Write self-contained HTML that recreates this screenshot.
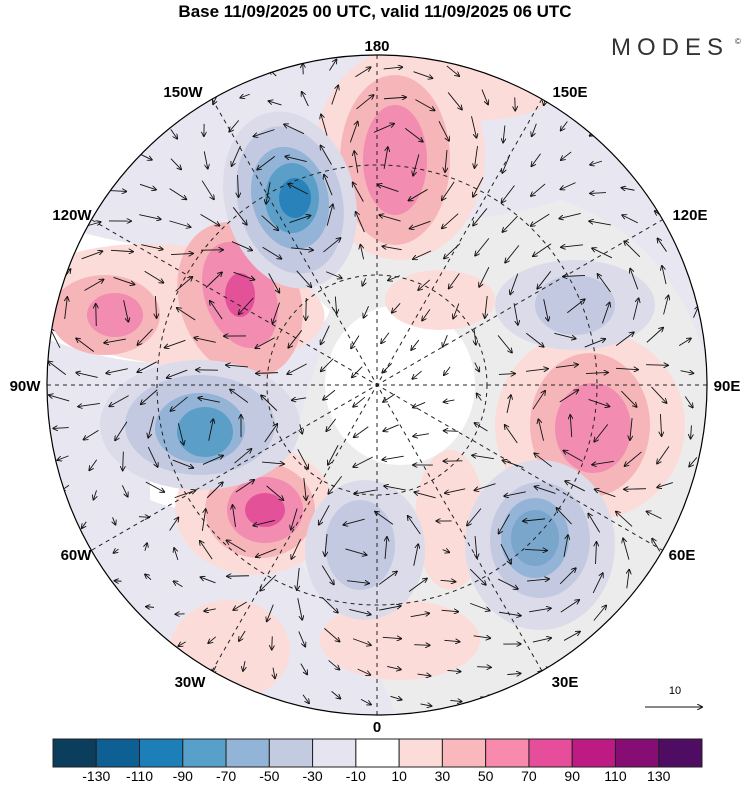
<!DOCTYPE html>
<html><head><meta charset="utf-8"><style>
body{margin:0;background:#fff;width:750px;height:783px;overflow:hidden;font-family:"Liberation Sans",sans-serif}
</style></head><body>
<svg id="s" width="750" height="783" viewBox="0 0 750 783" xmlns="http://www.w3.org/2000/svg" font-family="Liberation Sans, sans-serif">
<defs>
<clipPath id="c"><circle cx="377" cy="385" r="330"/></clipPath>
<marker id="ah" markerWidth="6" markerHeight="6" refX="5" refY="3" orient="auto"><path d="M0,0 L6,3 L0,6" fill="none" stroke="#111" stroke-width="1"/></marker>
</defs>
<text x="375" y="17" text-anchor="middle" font-size="17" font-weight="bold">Base 11/09/2025 00 UTC, valid 11/09/2025 06 UTC</text>
<text x="670" y="55" text-anchor="middle" font-size="24" fill="#333" letter-spacing="6">MODES</text>
<text x="735" y="44" font-size="8" fill="#333">©</text>
<g clip-path="url(#c)">
<rect x="40" y="50" width="680" height="680" fill="#e8e6f0"/>
<path d="M300,250 C380,220 470,230 560,200 C650,230 700,300 720,420 L720,730 L400,730 C380,650 330,620 300,560 C280,480 300,400 330,330 Z" fill="#ececec"/>
<ellipse cx="400" cy="385" rx="75" ry="80" fill="#fff"/>
<path d="M150,465 C220,455 290,470 320,500 C290,520 200,520 150,500 Z" fill="#fff"/>
<path d="M60,225 C150,260 260,240 330,310 C320,340 280,360 200,360 C130,370 80,350 50,340 Z" fill="#fff"/>
<g fill="#fcdcd9">
<ellipse cx="400" cy="155" rx="85" ry="105"/>
<ellipse cx="480" cy="85" rx="80" ry="35"/>
<ellipse cx="175" cy="305" rx="150" ry="60" transform="rotate(5 175 305)"/>
<ellipse cx="255" cy="510" rx="80" ry="65"/>
<ellipse cx="590" cy="425" rx="95" ry="95"/>
<ellipse cx="440" cy="300" rx="55" ry="30"/>
<ellipse cx="450" cy="520" rx="35" ry="70"/>
<ellipse cx="400" cy="640" rx="80" ry="40"/>
<ellipse cx="230" cy="650" rx="60" ry="50"/>
</g>
<g fill="#f6b5b9">
<ellipse cx="395" cy="160" rx="55" ry="85"/>
<ellipse cx="240" cy="300" rx="60" ry="80" transform="rotate(-20 240 300)"/>
<ellipse cx="105" cy="315" rx="55" ry="40"/>
<ellipse cx="260" cy="510" rx="55" ry="48"/>
<ellipse cx="590" cy="425" rx="60" ry="72"/>
</g>
<g fill="#f28cb0">
<ellipse cx="395" cy="160" rx="32" ry="55"/>
<ellipse cx="240" cy="295" rx="35" ry="55" transform="rotate(-20 240 295)"/>
<ellipse cx="265" cy="510" rx="38" ry="33"/>
<ellipse cx="593" cy="428" rx="38" ry="45"/>
<ellipse cx="115" cy="315" rx="28" ry="22"/>
</g>
<g fill="#e35199">
<ellipse cx="240" cy="295" rx="15" ry="22"/>
<ellipse cx="265" cy="510" rx="20" ry="17"/>
</g>
<g fill="#dcdbea">
<ellipse cx="290" cy="200" rx="65" ry="90" transform="rotate(-15 290 200)"/>
<ellipse cx="200" cy="425" rx="100" ry="65"/>
<ellipse cx="540" cy="545" rx="75" ry="85"/>
<ellipse cx="365" cy="550" rx="60" ry="70"/>
<ellipse cx="575" cy="305" rx="80" ry="45"/>
</g>
<g fill="#c3c9e0">
<ellipse cx="290" cy="200" rx="52" ry="75" transform="rotate(-15 290 200)"/>
<ellipse cx="200" cy="425" rx="75" ry="50"/>
<ellipse cx="540" cy="540" rx="50" ry="58"/>
<ellipse cx="360" cy="545" rx="35" ry="45"/>
<ellipse cx="575" cy="305" rx="40" ry="30"/>
</g>
<g fill="#93b4d6">
<ellipse cx="290" cy="198" rx="38" ry="52" transform="rotate(-15 290 198)"/>
<ellipse cx="200" cy="428" rx="45" ry="35"/>
<ellipse cx="535" cy="538" rx="34" ry="40"/>
</g>
<g fill="#5b9fc8">
<ellipse cx="292" cy="198" rx="27" ry="35"/>
<ellipse cx="205" cy="432" rx="28" ry="25"/>
<ellipse cx="535" cy="538" rx="24" ry="28" fill="#7aa6cc"/>
</g>
<ellipse cx="295" cy="198" rx="16" ry="20" fill="#2a82ba"/>
<g fill="none" stroke="#222" stroke-width="1" stroke-dasharray="4,4">
<circle cx="377" cy="385" r="110"/>
<circle cx="377" cy="385" r="220"/>
<line x1="47" y1="385" x2="707" y2="385"/>
<line x1="377" y1="55" x2="377" y2="715"/>
<line x1="92" y1="220" x2="662" y2="550"/>
<line x1="92" y1="550" x2="662" y2="220"/>
<line x1="212" y1="99" x2="542" y2="671"/>
<line x1="212" y1="671" x2="542" y2="99"/>
</g>
<g id="arr" stroke="#111" stroke-width="0.9" fill="none"></g>
</g>
<circle cx="377" cy="385" r="330" fill="none" stroke="#000" stroke-width="1.2"/>
<g font-size="15" font-weight="bold" text-anchor="middle">
<text x="377" y="51">180</text>
<text x="377" y="732">0</text>
<text x="25" y="391">90W</text>
<text x="727" y="391">90E</text>
<text x="183" y="97">150W</text>
<text x="570" y="97">150E</text>
<text x="72" y="220">120W</text>
<text x="690" y="220">120E</text>
<text x="76" y="560">60W</text>
<text x="682" y="560">60E</text>
<text x="190" y="687">30W</text>
<text x="565" y="687">30E</text>
</g>
<text x="675" y="694" text-anchor="middle" font-size="11">10</text>
<line x1="645" y1="707" x2="702" y2="707" stroke="#111" stroke-width="1" marker-end="url(#ah)"/>
<g id="cb" stroke="#222" stroke-width="1"></g>
<g id="cbl" font-size="14" text-anchor="middle"></g>
</svg>
<script>
var cols=["#0b3d5c","#0e5f93","#1d7fb8","#56a0c9","#92b4d6","#c3cbe0","#e6e4f0","#ffffff","#fcdcd9","#fbb8bc","#f88aad","#e64d9b","#bd1a84","#860d73","#4f0c63"];
var cb=document.getElementById("cb"),cbl=document.getElementById("cbl"),NS="http://www.w3.org/2000/svg";
var x0=53,w=(702-53)/15;
cols.forEach(function(c,i){var r=document.createElementNS(NS,"rect");r.setAttribute("x",x0+i*w);r.setAttribute("y",739);r.setAttribute("width",w);r.setAttribute("height",28);r.setAttribute("fill",c);cb.appendChild(r);});
var labs=[-130,-110,-90,-70,-50,-30,-10,10,30,50,70,90,110,130];
labs.forEach(function(l,i){var t=document.createElementNS(NS,"text");t.setAttribute("x",x0+(i+1)*w);t.setAttribute("y",781);t.textContent=l;cbl.appendChild(t);});
var V=[[293,200,-1],[395,160,1],[238,298,1],[110,315,1],[202,428,-1],[262,510,1],[357,545,-1],[537,538,-1],[590,425,1],[575,305,-1]];
var g=document.getElementById("arr");
for(var y=70;y<720;y+=30){for(var x=60;x<720;x+=30){
 var jx=x+((y*7)%13)-6,jy=y+((x*5)%11)-5;
 var dx=0,dy=0;V.forEach(function(v){var ux=jx-v[0],uy=jy-v[1];var d2=ux*ux+uy*uy+400;var f=v[2]*2500/d2;dx+=-uy*f/Math.sqrt(d2);dy+=ux*f/Math.sqrt(d2);});
 var m=Math.sqrt(dx*dx+dy*dy)||1;var L=Math.min(22,6+m*60);
 var p=document.createElementNS(NS,"line");p.setAttribute("x1",jx-dx/m*L/2);p.setAttribute("y1",jy-dy/m*L/2);p.setAttribute("x2",jx+dx/m*L/2);p.setAttribute("y2",jy+dy/m*L/2);p.setAttribute("marker-end","url(#ah)");g.appendChild(p);}}
</script>
</body></html>
